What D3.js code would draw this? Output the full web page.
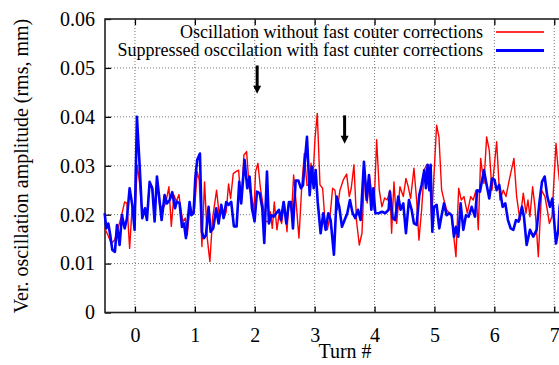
<!DOCTYPE html>
<head>
    <meta charset="utf-8">
    <script src="https://d3js.org/d3.v7.min.js"></script>
    <style>
        body { margin: 0; background: #fff; }
        text { font-family: "Liberation Serif", "DejaVu Serif", serif; fill: #000; }
    </style>
</head>
<body>
    <script>
        //////////////// Data ////////////////

        const xTicks = [0, 1, 2, 3, 4, 5, 6, 7]
        const yTicks = [0, 0.01, 0.02, 0.03, 0.04, 0.05, 0.06]
        const yTickLabels = ["0", "0.01", "0.02", "0.03", "0.04", "0.05", "0.06"]

        const seriesNames = ["Oscillation without fast couter corrections",
                             "Suppressed osccilation with fast cunter corrections"]

        // without corrections (red)
        const redTurn = [-0.506,-0.45,-0.395,-0.339,-0.284,-0.228,-0.172,-0.134,-0.089,-0.045,0,0.039,0.078,0.122,0.161,0.2,0.245,0.289,0.334,0.373,0.412,0.467,0.512,0.567,0.607,0.651,0.69,0.735,
            0.763,0.802,0.84,0.874,0.918,0.963,0.996,1.04,1.074,1.118,1.162,1.207,1.251,1.296,1.363,1.407,1.441,1.485,1.524,1.563,1.597,1.641,1.685,1.73,1.774,1.819,1.864,1.908,1.953,1.986,
            2.014,2.053,2.092,2.137,2.181,2.226,2.259,2.293,2.326,2.371,2.404,2.449,2.493,2.538,2.571,2.616,2.649,2.694,2.738,2.783,2.827,2.872,2.905,2.939,2.972,3.006,3.044,
            3.089,3.133,3.172,3.211,3.256,3.3,3.339,3.378,3.422,3.478,3.534,3.578,3.611,3.656,3.7,3.745,3.79,3.834,3.878,3.912,3.956,3.99,4.035,4.079,4.123,4.168,4.212,4.257,
            4.285,4.324,4.369,4.424,4.48,4.524,4.563,4.602,4.658,4.702,4.741,4.786,4.83,4.869,4.914,4.953,5.036,5.075,5.12,5.159,5.203,5.248,5.287,5.359,5.404,5.448,5.493,5.548,
            5.604,5.648,5.693,5.732,5.771,5.826,5.871,5.915,5.96,6.038,6.093,6.149,6.194,6.249,6.327,6.372,6.428,6.483,6.528,6.561,6.594,6.639,6.678,6.734,6.789,6.845,6.884,6.918,
            6.962,7.029,7.062,7.085,7.12]
        const redAmp = [0.0172,0.0158,0.0141,0.0148,0.0172,0.0196,0.0226,0.0223,0.0131,0.022,0.0199,0.0301,0.0264,0.0199,0.021,0.0199,0.0266,0.0257,0.0213,0.0264,0.022,0.0213,0.0223,0.0257,0.0176,0.024,0.0227,0.0241,
            0.0213,0.0186,0.0193,0.0158,0.022,0.0203,0.0213,0.0288,0.027,0.0135,0.0267,0.0152,0.0104,0.0193,0.025,0.0199,0.0216,0.0193,0.0206,0.0263,0.0233,0.0284,0.0288,0.0291,0.0226,0.0322,0.0329,0.0254,0.0233,0.0206,
            0.0288,0.0305,0.0257,0.022,0.0186,0.0186,0.0206,0.0172,0.0226,0.0169,0.0199,0.0182,0.0226,0.0165,0.0226,0.0206,0.0281,0.022,0.0152,0.0254,0.0325,0.026,0.026,0.0305,0.0274,0.0356,0.0407,
            0.0261,0.0254,0.0189,0.0169,0.0196,0.0254,0.025,0.021,0.025,0.0271,0.0283,0.0237,0.0254,0.0302,0.0186,0.0138,0.0162,0.0291,0.0224,0.0281,0.0244,0.021,0.0353,0.025,0.0216,0.0234,0.023,0.025,
            0.0162,0.0267,0.0182,0.0257,0.0237,0.0274,0.0257,0.0233,0.0295,0.023,0.0148,0.021,0.0291,0.0302,0.0298,0.0189,0.0383,0.0359,0.025,0.023,0.021,0.0203,0.0196,0.0114,0.0254,0.023,0.0237,0.0203,
            0.0237,0.023,0.025,0.0169,0.0315,0.0264,0.0359,0.0332,0.025,0.0349,0.023,0.025,0.0237,0.0271,0.0315,0.0237,0.0189,0.0244,0.0203,0.023,0.0196,0.0257,0.0216,0.0114,0.025,0.0237,0.021,0.0182,
            0.0196,0.0346,0.0298,0.0271,0.025]

        // with fast corrections (blue)
        const blueTurn = [-0.506,-0.478,-0.445,-0.412,-0.378,-0.334,-0.3,-0.256,-0.217,-0.172,-0.134,-0.089,-0.045,-0.006,0.033,0.078,0.122,0.167,0.2,0.245,0.289,0.328,0.367,0.401,0.445,0.495,0.534,0.579,0.623,0.668,0.701,
            0.746,0.785,0.818,0.851,0.912,0.94,0.979,1.007,1.04,1.085,1.118,1.151,1.185,1.229,1.263,1.307,1.357,1.396,1.441,1.479,1.524,1.563,1.607,1.652,1.697,1.741,1.774,1.83,1.875,1.914,1.953,1.997,
            2.037,2.081,2.126,2.159,2.204,2.237,2.276,2.315,2.36,2.404,2.437,2.482,2.527,2.571,2.605,2.638,2.683,2.727,2.772,2.805,2.833,2.872,2.917,2.95,2.984,3.017,3.051,
            3.1,3.144,3.183,3.228,3.267,3.322,3.367,3.411,3.456,3.5,3.545,3.589,3.634,3.678,3.723,3.768,3.823,3.868,3.907,3.946,3.98,4.013,4.069,4.124,4.18,4.235,
            4.257,4.302,4.341,4.396,4.435,4.48,4.524,4.574,4.619,4.658,4.702,4.747,4.786,4.83,4.858,4.886,4.914,4.936,4.964,4.992,5.036,5.081,5.12,5.159,5.203,5.248,5.287,5.326,5.359,5.398,5.437,5.482,
            5.526,5.571,5.621,5.676,5.715,5.76,5.826,5.871,5.915,5.96,6.004,6.038,6.082,6.138,6.183,6.227,6.272,6.317,6.361,6.405,6.461,6.494,6.539,6.595,6.65,6.706,6.751,6.795,6.84,6.884,6.929,6.968,
            7.029,7.068,7.09,7.12]
        const blueAmp = [0.0203,0.0172,0.0182,0.0158,0.0128,0.0124,0.0179,0.0138,0.0199,0.0172,0.0192,0.0254,0.022,0.0169,0.04,0.0301,0.0193,0.0213,0.0189,0.0267,0.0254,0.0186,0.0278,0.024,0.0189,0.024,0.0223,0.023,0.0246,0.0213,0.0227,
            0.0223,0.0175,0.0182,0.0152,0.0226,0.0199,0.0203,0.0274,0.0312,0.0325,0.0165,0.0152,0.0158,0.0216,0.0165,0.0172,0.0213,0.0182,0.022,0.0193,0.0226,0.022,0.0226,0.0176,0.0176,0.0267,0.0223,0.0312,0.0254,0.0278,0.0213,0.0186,
            0.0247,0.0244,0.0213,0.0142,0.0288,0.0182,0.0199,0.0196,0.0203,0.021,0.0189,0.0226,0.0182,0.0226,0.0226,0.0172,0.027,0.027,0.0254,0.026,0.0305,0.0359,0.024,0.0298,0.0254,0.0291,0.0226,
            0.0162,0.0203,0.0169,0.0203,0.0189,0.0118,0.0237,0.0216,0.0175,0.0189,0.0203,0.023,0.0203,0.0193,0.021,0.0189,0.0308,0.023,0.0281,0.021,0.0254,0.0203,0.0203,0.0206,0.0203,0.021,
            0.0247,0.0193,0.0189,0.0237,0.021,0.0223,0.0162,0.023,0.021,0.0182,0.0179,0.024,0.0261,0.0291,0.0254,0.0302,0.025,0.0302,0.0165,0.0216,0.022,0.0172,0.0199,0.0223,0.0199,0.0203,0.0199,0.0155,0.0175,0.0155,0.0223,0.0169,
            0.0199,0.0196,0.0216,0.0196,0.025,0.0247,0.0291,0.0261,0.0233,0.0274,0.0271,0.025,0.0261,0.0216,0.0223,0.0189,0.0172,0.0169,0.0189,0.0186,0.0216,0.0196,0.0138,0.0169,0.0155,0.0169,0.0223,0.0267,0.0278,0.0237,0.0216,0.0233,
            0.0141,0.0169,0.0216,0.024]

        // arrows: [turn, value at tail, value at head]
        const arrowTurn = [2.04, 3.5]
        const arrowFrom = [0.0505, 0.0403]
        const arrowTo = [0.0447, 0.0345]

        //////////////// SVG ////////////////

        const width = 559, height = 365
        const margin = {left: 105, top: 19}
        const plotW = 479.2, plotH = 293.5
        const serif = '"Liberation Serif", "DejaVu Serif", serif'

        const svg = d3.select("body").append("svg")
            .attr("width", width)
            .attr("height", height)

        const g = svg.append("g").attr("transform", `translate(${margin.left},${margin.top})`)

        const x = d3.scaleLinear().domain([-0.5, 7.5]).range([0, plotW])
        const y = d3.scaleLinear().domain([0, 0.06]).range([plotH, 0])

        //grid
        g.selectAll(".vgrid").data(xTicks).enter().append("line")
            .attr("x1", d => x(d)).attr("x2", d => x(d))
            .attr("y1", 0).attr("y2", plotH)
            .attr("stroke", "#777").attr("stroke-width", 1).attr("stroke-dasharray", "1,2")
        g.selectAll(".hgrid").data(yTicks.slice(1, -1)).enter().append("line")
            .attr("x1", 0).attr("x2", plotW)
            .attr("y1", d => y(d)).attr("y2", d => y(d))
            .attr("stroke", "#777").attr("stroke-width", 1).attr("stroke-dasharray", "1,2")

        //axes
        const yAxis = g.append("g")
            .call(d3.axisLeft(y).tickValues(yTicks).tickFormat((d, i) => yTickLabels[i])
                .tickSizeInner(-6).tickSizeOuter(0).tickPadding(10))
        const xAxis = g.append("g").attr("transform", `translate(0,${plotH})`)
            .call(d3.axisBottom(x).tickValues(xTicks).tickFormat(d3.format("d"))
                .tickSizeInner(-6).tickSizeOuter(0).tickPadding(15))
        const xTop = g.append("g")
            .call(d3.axisTop(x).tickValues(xTicks).tickFormat("")
                .tickSizeInner(-6).tickSizeOuter(0))

        ;[yAxis, xAxis, xTop].forEach(a => {
            a.attr("font-family", serif).attr("font-size", 20)
            a.select(".domain").remove()
            a.selectAll(".tick line").attr("stroke", "#000").attr("stroke-width", 1.3)
            a.selectAll("text").attr("font-family", serif).attr("font-size", 20)
        })

        //frame
        g.append("rect")
            .attr("width", plotW).attr("height", plotH)
            .attr("fill", "none").attr("stroke", "#222").attr("stroke-width", 1.6)

        //lines
        const line = d3.line()
            .x(d => x(d[0]))
            .y(d => y(d[1]))

        const redData = redTurn.map((t, i) => [t, redAmp[i]])
        const blueData = blueTurn.map((t, i) => [t, blueAmp[i]])

        g.append("path").datum(redData)
            .attr("d", line)
            .attr("fill", "none").attr("stroke", "#ff0000").attr("stroke-width", 1.4)
            .attr("stroke-linejoin", "round")
        g.append("path").datum(blueData)
            .attr("d", line)
            .attr("fill", "none").attr("stroke", "#0000ff").attr("stroke-width", 2.6)
            .attr("stroke-linejoin", "round")

        //arrows
        arrowTurn.forEach((t, i) => {
            const ax = x(t), y0 = y(arrowFrom[i]), y1 = y(arrowTo[i])
            g.append("line")
                .attr("x1", ax).attr("x2", ax).attr("y1", y0).attr("y2", y1 - 6)
                .attr("stroke", "#000").attr("stroke-width", 3)
            g.append("path")
                .attr("d", `M${ax - 4},${y1 - 8} L${ax + 4},${y1 - 8} L${ax},${y1} Z`)
                .attr("fill", "#000")
        })

        //legend
        const legendColors = ["#ff3030", "#0000ff"]
        const legendWidths = [2, 3]
        seriesNames.forEach((name, i) => {
            const ly = 32 + i * 18.5
            svg.append("text")
                .attr("x", 483).attr("y", ly)
                .attr("dy", "0.33em")
                .attr("text-anchor", "end")
                .attr("font-size", 18)
                .text(name)
            svg.append("line")
                .attr("x1", 496).attr("x2", 544)
                .attr("y1", ly).attr("y2", ly)
                .attr("stroke", legendColors[i]).attr("stroke-width", legendWidths[i])
        })

        //axis titles
        svg.append("text")
            .attr("x", 345).attr("y", 358)
            .attr("text-anchor", "middle")
            .attr("font-size", 20)
            .text("Turn #")
        svg.append("text")
            .attr("transform", "translate(28,166) rotate(-90)")
            .attr("text-anchor", "middle")
            .attr("font-size", 20)
            .text("Ver. oscillation amplitude (rms, mm)")
    </script>
</body>
